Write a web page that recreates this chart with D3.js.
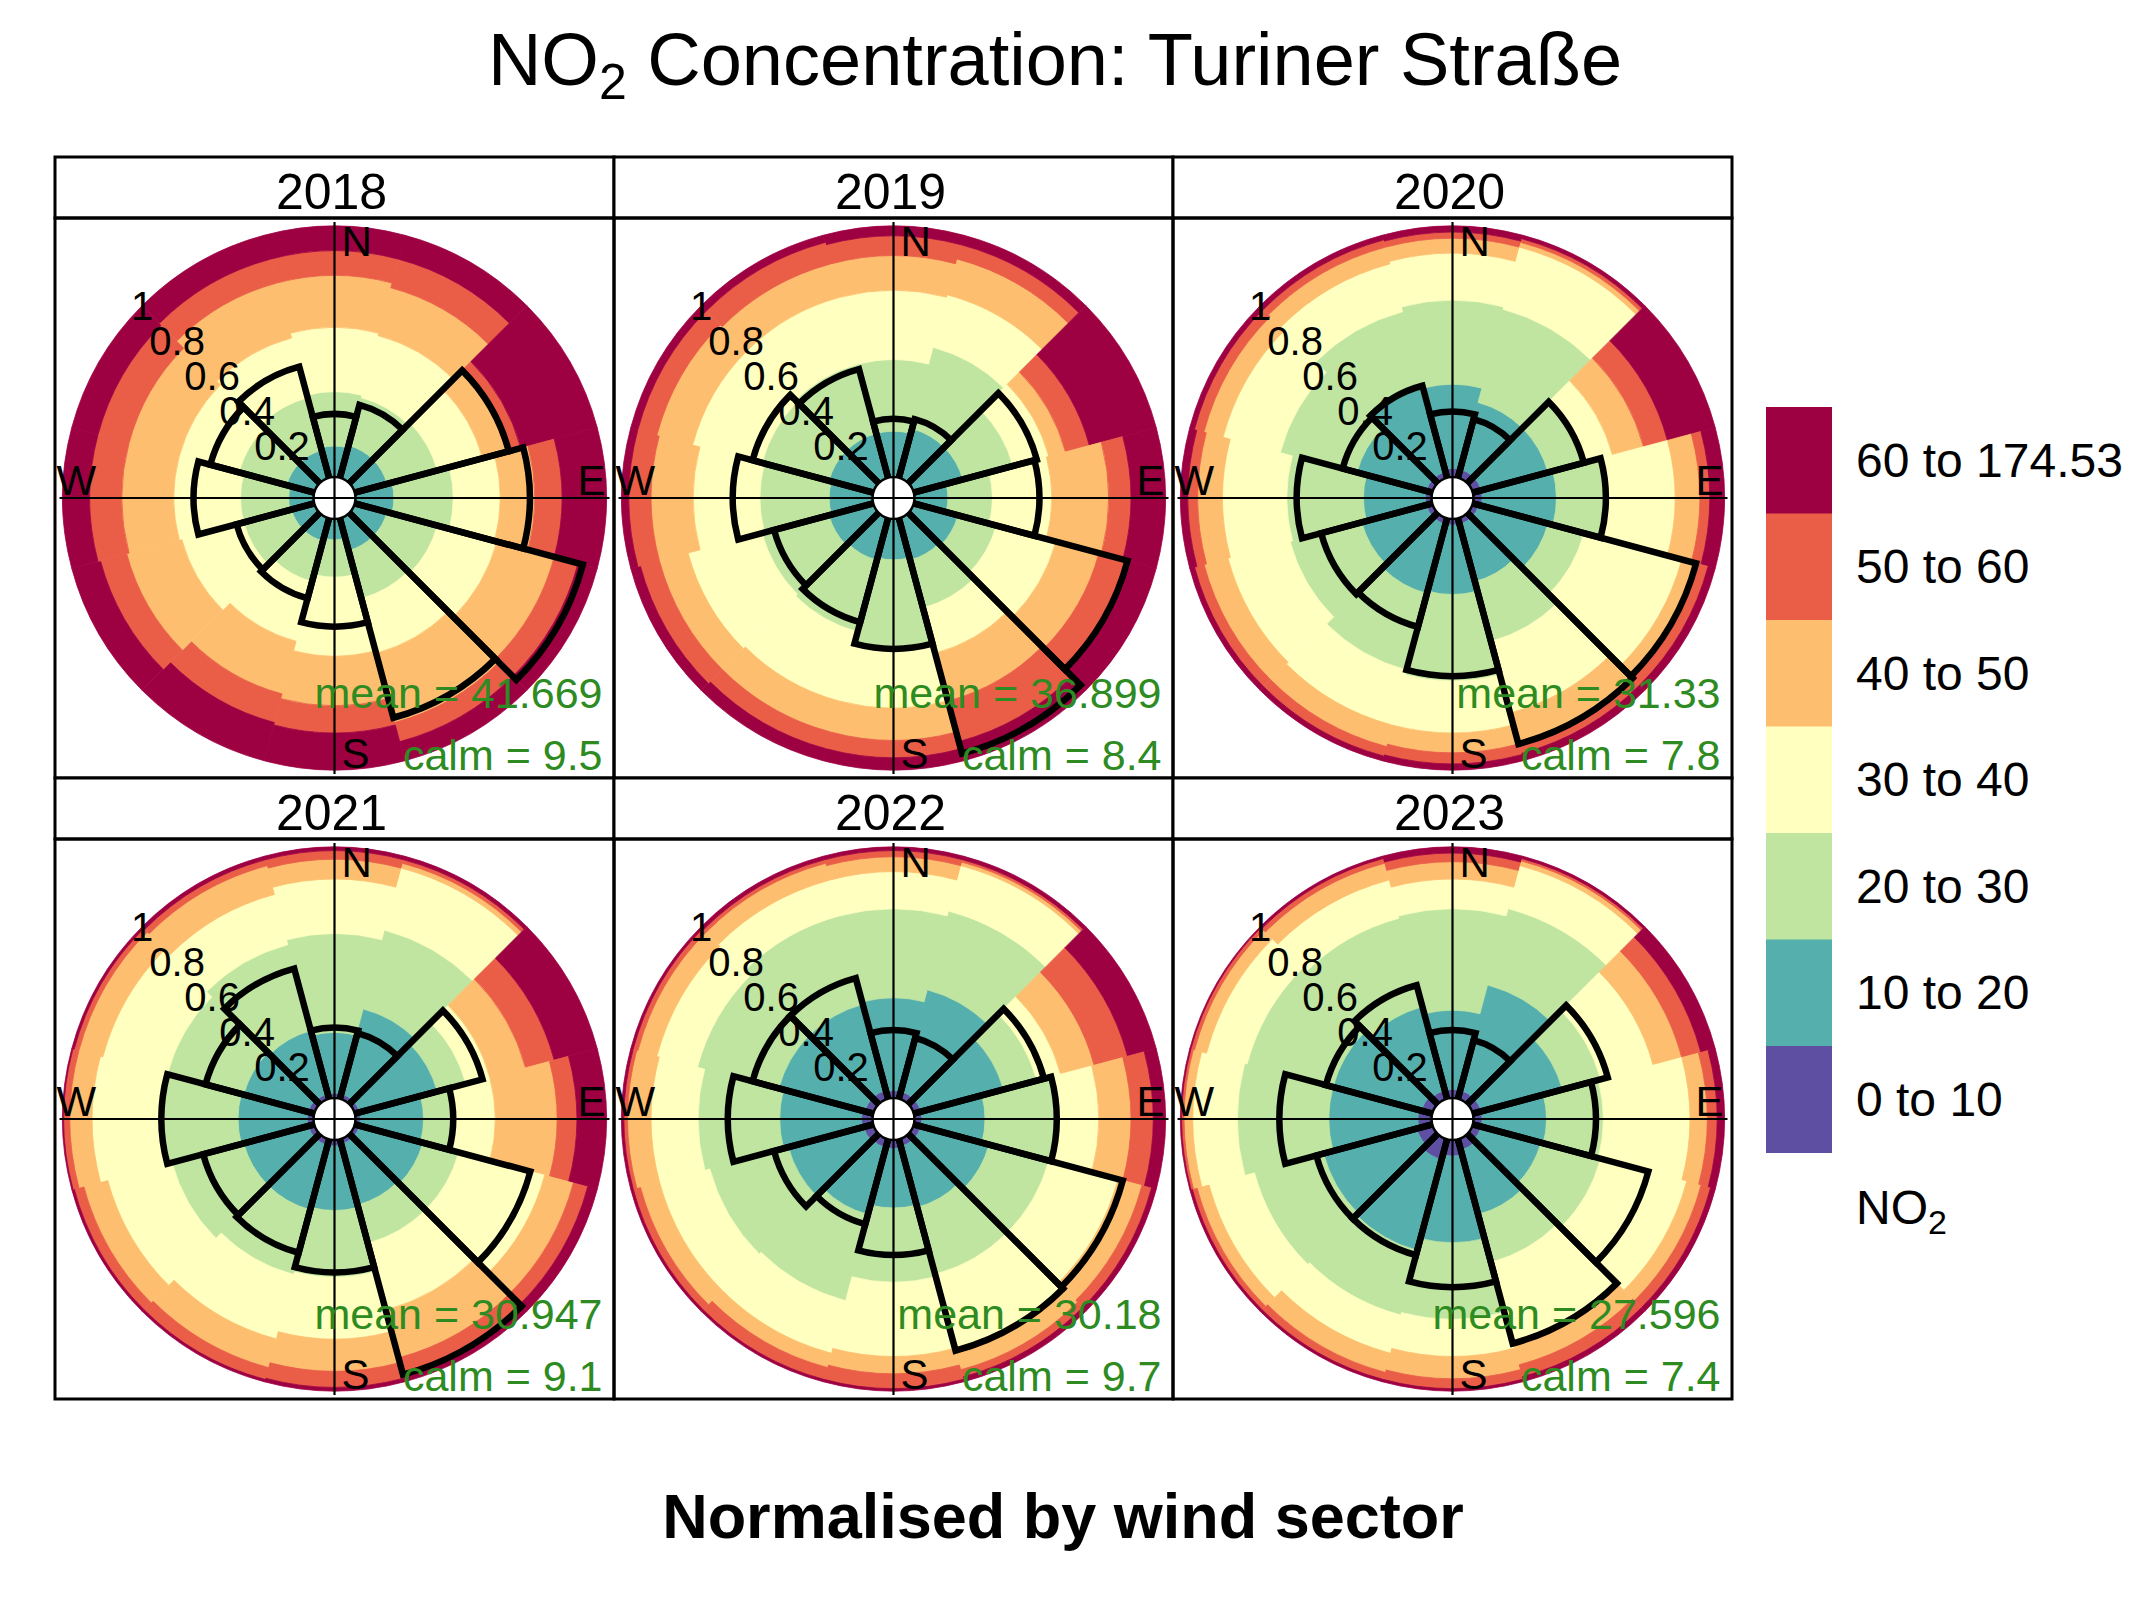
<!DOCTYPE html>
<html>
<head>
<meta charset="utf-8">
<script src="https://cdn.jsdelivr.net/npm/d3@7"></script>
<style>
  html, body { margin: 0; padding: 0; background: #fff; }
  svg { display: block; font-family: "Liberation Sans", Arial, Helvetica, sans-serif; }
</style>
</head>
<body>
<svg id="chart" width="2151" height="1597"></svg>
<script>
// ---------------- DATA ----------------
const years = ["2018", "2019", "2020", "2021", "2022", "2023"];
const sectors = [0, 30, 60, 90, 120, 150, 180, 210, 240, 270, 300, 330];
const binLabels = ["0 to 10", "10 to 20", "20 to 30", "30 to 40", "40 to 50", "50 to 60", "60 to 174.53"];
const binColors = ["#5E4FA2", "#55AFAD", "#BFE5A0", "#FFFFBF", "#FDBF6F", "#EA5D47", "#9E0142"];
const radialTicks = [0.2, 0.4, 0.6, 0.8, 1];
const radialTickLabels = ["0.2", "0.4", "0.6", "0.8", "1"];
const compass = ["N", "E", "S", "W"];

// cumulative share (normalised per sector) at the upper end of bins 0-10 ... 50-60
const cum2018 = [
  [0, .11, .33, .59, .80, .90], [0, .12, .32, .58, .78, .90], [0, .12, .33, .52, .62, .68],
  [0, .14, .38, .57, .71, .82], [0, .12, .33, .58, .82, .92], [0, .12, .32, .55, .84, .92],
  [0, .07, .22, .54, .74, .85], [0, .08, .25, .50, .72, .84], [0, .08, .28, .54, .77, .88],
  [0, .085, .28, .55, .76, .89], [0, .10, .30, .55, .76, .89], [0, .10, .32, .57, .80, .90]
];
const cum2019 = [
  [0, .17, .46, .74, .88, .96], [0, .19, .53, .75, .90, .96], [0, .19, .40, .55, .62, .72],
  [0, .12, .30, .54, .77, .86], [0, .17, .33, .58, .76, .88], [0, .16, .36, .55, .75, .92],
  [0, .15, .50, .75, .88, .95], [0, .16, .46, .75, .88, .95], [0, .17, .45, .76, .88, .96],
  [0, .16, .44, .71, .88, .97], [0, .17, .45, .74, .89, .97], [0, .17, .46, .74, .88, .97]
];
const cum2020 = [
  [.02, .36, .70, .89, .95, .975], [.02, .30, .69, .95, .97, .985], [.02, .30, .45, .57, .70, .80],
  [.02, .32, .52, .80, .90, .94], [.01, .30, .45, .86, .93, .97], [.01, .25, .50, .80, .92, .97],
  [.01, .29, .64, .85, .93, .975], [.01, .30, .62, .85, .94, .98], [.01, .28, .58, .84, .94, .98],
  [.01, .26, .57, .83, .93, .97], [.01, .30, .62, .86, .94, .98], [.01, .36, .68, .88, .95, .98]
];
const cum2021 = [
  [.005, .25, .65, .87, .95, .985], [.005, .36, .69, .95, .97, .985], [.005, .33, .45, .55, .70, .82],
  [.005, .26, .38, .55, .80, .88], [.005, .27, .42, .78, .90, .96], [.005, .26, .42, .70, .90, .97],
  [.01, .27, .54, .79, .92, .985], [.01, .28, .55, .82, .94, .99], [.01, .28, .58, .85, .95, .99],
  [.01, .29, .59, .88, .97, .995], [.01, .28, .60, .87, .97, .99], [.005, .27, .63, .84, .96, .985]
];
const cum2022 = [
  [.015, .39, .75, .90, .96, .985], [.015, .44, .77, .96, .975, .985], [.015, .36, .50, .60, .74, .88],
  [.015, .27, .56, .73, .86, .95], [.015, .30, .55, .84, .94, .98], [.015, .27, .55, .86, .95, .98],
  [.02, .26, .56, .86, .93, .99], [.02, .30, .66, .88, .94, .99], [.025, .34, .67, .88, .96, .99],
  [.03, .36, .69, .88, .975, .99], [.02, .38, .72, .89, .97, .99], [.02, .38, .75, .90, .97, .985]
];
const cum2023 = [
  [.02, .34, .75, .87, .94, .975], [.02, .46, .78, .96, .98, .99], [.02, .36, .52, .74, .86, .94],
  [.02, .28, .51, .86, .93, .97], [.02, .27, .52, .88, .94, .98], [.03, .30, .50, .83, .93, .98],
  [.05, .40, .71, .86, .95, .99], [.07, .45, .72, .88, .96, .99], [.05, .44, .73, .92, .97, .99],
  [.04, .40, .77, .95, .985, .995], [.03, .40, .76, .93, .98, .995], [.02, .37, .74, .90, .97, .99]
];

// relative wind frequency by sector (black outline)
const freq2018 = [.24, .29, .63, .69, .94, .82, .42, .32, .31, .47, .42, .45];
const freq2019 = [.22, .23, .50, .49, .88, .97, .51, .42, .40, .55, .49, .44];
const freq2020 = [.25, .23, .45, .52, .92, .93, .62, .44, .45, .53, .36, .37];
const freq2021 = [.27, .26, .52, .38, .72, .97, .52, .46, .45, .60, .44, .53];
const freq2022 = [.26, .24, .53, .56, .86, .87, .45, .34, .40, .57, .49, .49];
const freq2023 = [.26, .23, .55, .48, .72, .84, .58, .47, .47, .60, .43, .46];

const means = ["41.669", "36.899", "31.33", "30.947", "30.18", "27.596"];
const calms = ["9.5", "8.4", "7.8", "9.1", "9.7", "7.4"];

const cumByYear = [cum2018, cum2019, cum2020, cum2021, cum2022, cum2023];
const freqByYear = [freq2018, freq2019, freq2020, freq2021, freq2022, freq2023];

// ---------------- LAYOUT ----------------
const svg = d3.select("#chart");
const frameLeft = 55, colW = 559, frameTop = 157, stripH = 61, panelH = 560;
const R = 272;
const halfW = 15; // half sector width (deg)
const hubR = 21;
const rScale = d3.scaleLinear().domain([-0.1, 1]).range([0, R]);
const colorScale = d3.scaleOrdinal().domain(d3.range(binLabels.length)).range(binColors);
const toRad = d => d * Math.PI / 180;
const arc = d3.arc();

svg.append("rect").attr("width", 2151).attr("height", 1597).attr("fill", "#fff");

// Title
const title = svg.append("text").attr("x", 1055).attr("y", 85)
  .attr("text-anchor", "middle").attr("font-size", 74).attr("fill", "#000");
title.append("tspan").text("NO");
title.append("tspan").text("2").attr("font-size", 50).attr("dy", 14);
title.append("tspan").text(" Concentration: Turiner Straße").attr("dy", -14);

years.forEach((yr, idx) => {
  const col = idx % 3, row = Math.floor(idx / 3);
  const x0 = frameLeft + col * colW;
  const sTop = frameTop + row * (stripH + panelH);
  const pTop = sTop + stripH;
  const cx = x0 + colW / 2, cy = pTop + panelH / 2;

  // strip
  svg.append("rect").attr("x", x0).attr("y", sTop).attr("width", colW).attr("height", stripH)
    .attr("fill", "#fff");
  svg.append("text").attr("x", cx - 3).attr("y", sTop + 52).attr("text-anchor", "middle")
    .attr("font-size", 50).text(yr);

  const g = svg.append("g").attr("transform", `translate(${cx},${cy})`);
  const cum = cumByYear[idx];
  const freq = freqByYear[idx];

  // stacked normalised bars
  sectors.forEach((ang, si) => {
    const bounds = [0, ...cum[si], 1];
    for (let b = 0; b < binLabels.length; b++) {
      const lo = bounds[b], hi = bounds[b + 1];
      if (hi - lo <= 0) continue;
      const inner = lo === 0 ? hubR - 1 : rScale(lo);
      g.append("path")
        .attr("d", arc({ innerRadius: inner, outerRadius: rScale(hi),
          startAngle: toRad(ang - halfW), endAngle: toRad(ang + halfW) }))
        .attr("fill", colorScale(b)).attr("stroke", colorScale(b)).attr("stroke-width", 0.8);
    }
  });

  // frequency wedges
  sectors.forEach((ang, si) => {
    g.append("path")
      .attr("d", arc({ innerRadius: 0, outerRadius: rScale(freq[si]),
        startAngle: toRad(ang - halfW), endAngle: toRad(ang + halfW) }))
      .attr("fill", "none").attr("stroke", "#000").attr("stroke-width", 6.5)
      .attr("stroke-linejoin", "miter");
  });

  // centre circle
  g.append("circle").attr("r", hubR).attr("fill", "#fff").attr("stroke", "#000").attr("stroke-width", 2.5);

  // axis cross
  g.append("line").attr("x1", -R - 3).attr("x2", R + 3).attr("y1", 0).attr("y2", 0)
    .attr("stroke", "#000").attr("stroke-width", 2.2);
  g.append("line").attr("y1", -R - 4).attr("y2", R + 4).attr("x1", 0).attr("x2", 0)
    .attr("stroke", "#000").attr("stroke-width", 2.2);

  // compass labels
  const fs = 42;
  g.append("text").attr("x", 7).attr("y", -R + 30).attr("font-size", fs).text(compass[0]);
  g.append("text").attr("x", R - 1).attr("y", -3).attr("text-anchor", "end").attr("font-size", fs).text(compass[1]);
  g.append("text").attr("x", 7).attr("y", R - 2).attr("font-size", fs).text(compass[2]);
  g.append("text").attr("x", -R - 6).attr("y", -3).attr("font-size", fs).text(compass[3]);

  // radial tick labels along 315 deg
  radialTicks.forEach((v, i) => {
    const r = rScale(v);
    g.append("text")
      .attr("x", -r * Math.SQRT1_2).attr("y", -r * Math.SQRT1_2)
      .attr("text-anchor", "middle").attr("dominant-baseline", "central")
      .attr("font-size", 40).text(radialTickLabels[i]);
  });

  // mean / calm
  g.append("text").attr("x", 268).attr("y", 210).attr("text-anchor", "end")
    .attr("font-size", 43).attr("fill", "#2E8B22").text("mean = " + means[idx]);
  g.append("text").attr("x", 268).attr("y", 272).attr("text-anchor", "end")
    .attr("font-size", 43).attr("fill", "#2E8B22").text("calm = " + calms[idx]);

  // borders on top
  svg.append("rect").attr("x", x0).attr("y", sTop).attr("width", colW).attr("height", stripH)
    .attr("fill", "none").attr("stroke", "#000").attr("stroke-width", 3);
  svg.append("rect").attr("x", x0).attr("y", pTop).attr("width", colW).attr("height", panelH)
    .attr("fill", "none").attr("stroke", "#000").attr("stroke-width", 3);
});

// Legend
const legX = 1766, legTop = 407, boxH = 106.5, boxW = 66;
const legOrder = d3.range(binLabels.length).reverse();
legOrder.forEach((b, i) => {
  svg.append("rect").attr("x", legX).attr("y", legTop + i * boxH).attr("width", boxW)
    .attr("height", boxH + 0.5).attr("fill", colorScale(b));
  svg.append("text").attr("x", 1856).attr("y", legTop + i * boxH + boxH / 2)
    .attr("dominant-baseline", "central").attr("font-size", 48).text(binLabels[b]);
});
const legTitle = svg.append("text").attr("x", 1856).attr("y", 1224).attr("font-size", 48);
legTitle.append("tspan").text("NO");
legTitle.append("tspan").text("2").attr("font-size", 34).attr("dy", 10);

// Caption
svg.append("text").attr("x", 1063).attr("y", 1538).attr("text-anchor", "middle")
  .attr("font-size", 63).attr("font-weight", "bold").text("Normalised by wind sector");
</script>
</body>
</html>
